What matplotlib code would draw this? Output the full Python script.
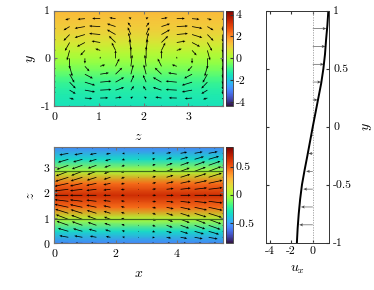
import matplotlib

matplotlib.use("Agg")

import matplotlib.pyplot as plt
import numpy as np

plt.rcParams["font.family"] = "serif"
plt.rcParams["font.serif"] = ["cmr10"]
plt.rcParams["mathtext.fontset"] = "cm"
plt.rcParams["axes.unicode_minus"] = False
plt.rcParams["axes.formatter.use_mathtext"] = True

# ---- mean streamwise profile u_x(y) (right panel, also colours top panel)
prof_y = [-1.0, -0.875, -0.75, -0.625, -0.5, -0.375, -0.25, -0.125, 0.0,
          0.125, 0.25, 0.375, 0.5, 0.625, 0.75, 0.875, 1.0]
prof_ux = [-1.47, -1.4, -1.3, -1.17, -1.0, -0.76, -0.5, -0.25, 0.0,
           0.26, 0.52, 0.78, 0.98, 1.13, 1.23, 1.35, 1.44]

# arrows of the profile panel
arr_y = [-0.846, -0.692, -0.538, -0.385, -0.231, -0.077,
         0.077, 0.231, 0.385, 0.538, 0.692, 0.846]
arr_ux = [-1.26, -1.1, -0.88, -0.62, -0.4, -0.15,
          0.15, 0.46, 0.77, 1.03, 1.17, 1.26]

# ---- cross-flow rolls in the (z, y) plane
top_z = [0.0, 0.343, 0.685, 1.028, 1.371, 1.714, 2.056, 2.399, 2.742,
         3.084, 3.427, 3.77]
top_y = [-1.0, -0.833, -0.667, -0.5, -0.333, -0.167, 0.0, 0.167, 0.333,
         0.5, 0.667, 0.833, 1.0]
roll_cos_z = [1.0, 0.84, 0.42, -0.14, -0.65, -0.96, -0.96, -0.65, -0.14,
              0.42, 0.84, 1.0]
roll_sin_z = [0.0, 0.54, 0.91, 0.99, 0.76, 0.28, -0.28, -0.76, -0.99,
              -0.91, -0.54, 0.0]
roll_v_y = [0.0, 0.12, 0.35, 0.6, 0.8, 0.95, 1.0, 0.95, 0.8, 0.6,
            0.35, 0.12, 0.0]
roll_w_y = [0.0, 0.65, 0.9, 0.9, 0.7, 0.4, 0.0, -0.4, -0.7, -0.9, -0.9,
            -0.65, 0.0]

# ---- midplane (x, z) field
bot_x = [0.0, 0.458, 0.917, 1.375, 1.833, 2.292, 2.75, 3.208, 3.667,
         4.125, 4.583, 5.042, 5.5]
bot_amp_x = [-1.0, -0.97, -0.87, -0.71, -0.5, -0.26, 0.0, 0.26, 0.5,
             0.71, 0.87, 0.97, 1.0]
bot_z = [0.0, 0.236, 0.471, 0.707, 0.942, 1.178, 1.414, 1.649, 1.885,
         2.121, 2.356, 2.592, 2.827, 3.063, 3.299, 3.534, 3.77]
bot_u_z = [0.6, 0.65, 0.75, 0.85, 0.9, 0.95, 1.0, 1.0, 1.0, 1.0, 1.0,
           0.95, 0.9, 0.85, 0.75, 0.65, 0.6]
bot_w_z = [0.0, -0.12, -0.22, -0.3, -0.34, -0.3, -0.22, -0.12, 0.0, 0.12,
           0.22, 0.3, 0.34, 0.3, 0.22, 0.12, 0.0]
bot_c_z = [0.0, 0.471, 0.942, 1.414, 1.885, 2.356, 2.827, 3.299, 3.77]
bot_c = [-0.58, -0.34, 0.02, 0.46, 0.64, 0.46, 0.02, -0.34, -0.58]
roll_centres_z = [0.94, 2.83]

top_ticks_x = [0, 1, 2, 3]
top_ticks_y = [-1, 0, 1]
top_ticklabels_y = ["-1", "0", "1"]
top_cb_ticks = [-4, -2, 0, 2, 4]
top_cb_labels = ["-4", "-2", "0", "2", "4"]
bot_ticks_x = [0, 2, 4]
bot_ticks_y = [0, 1, 2, 3]
bot_cb_ticks = [-0.5, 0, 0.5]
bot_cb_labels = ["-0.5", "0", "0.5"]
prof_ticks_x = [-4, -2, 0]
prof_ticklabels_x = ["-4", "-2", "0"]
prof_ticks_y = [-1, -0.5, 0, 0.5, 1]
prof_ticklabels_y = ["-1", "-0.5", "0", "0.5", "1"]

W, H = 374, 290
fig = plt.figure(figsize=(W / 100, H / 100), dpi=100)


def box(x0, y0, x1, y1):
    return [x0 / W, 1 - y1 / H, (x1 - x0) / W, (y1 - y0) / H]


ax_top = fig.add_axes(box(54.3, 10.7, 222.7, 106))
cax_top = fig.add_axes(box(226, 10.7, 232.7, 106))
ax_bot = fig.add_axes(box(54.3, 147.3, 222.7, 243.3))
cax_bot = fig.add_axes(box(226, 147.3, 232.7, 243.3))
ax_pro = fig.add_axes(box(266.3, 10.7, 329, 242.7))

fs = 8.5
frame = "0.45"
qkw = dict(color="black", scale_units="inches", width=0.0045,
           headwidth=3.2, headlength=3.6, headaxislength=3.2, pivot="tail")

# ---- top panel
prof_c = np.repeat(np.array(prof_ux)[:, None], 2, axis=1)
m_top = ax_top.pcolormesh([top_z[0], top_z[-1]], prof_y, prof_c,
                          shading="gouraud", cmap="turbo",
                          vmin=-4.35, vmax=4.35)
v = -np.outer(roll_v_y, roll_cos_z)
w = np.outer(roll_w_y, roll_sin_z)
ax_top.quiver(top_z, top_y, w, v, scale=8, **qkw)
ax_top.set_xlim(0, 3.77)
ax_top.set_ylim(-1, 1)
ax_top.set_xticks(top_ticks_x)
ax_top.set_yticks(top_ticks_y, top_ticklabels_y)
ax_top.set_xlabel("$z$", fontsize=10, labelpad=6)
ax_top.set_ylabel("$y$", fontsize=10, labelpad=2)
cb = fig.colorbar(m_top, cax=cax_top)
cb.set_ticks(top_cb_ticks, labels=top_cb_labels)

# ---- bottom panel
bot_cc = np.repeat(np.array(bot_c)[:, None], 2, axis=1)
m_bot = ax_bot.pcolormesh([bot_x[0], bot_x[-1]], bot_c_z, bot_cc,
                          shading="gouraud", cmap="turbo",
                          vmin=-0.86, vmax=0.84)
bu = np.outer(bot_u_z, bot_amp_x)
bw = np.outer(bot_w_z, bot_amp_x)
ax_bot.quiver(bot_x, bot_z, bu, bw, scale=7, **qkw)
for zc in roll_centres_z:
    ax_bot.axhline(zc, color="#3f6b1f", lw=0.9)
ax_bot.set_xlim(0, 5.5)
ax_bot.set_ylim(0, 3.77)
ax_bot.set_xticks(bot_ticks_x)
ax_bot.set_yticks(bot_ticks_y)
ax_bot.set_xlabel("$x$", fontsize=10, labelpad=6)
ax_bot.set_ylabel("$z$", fontsize=10, labelpad=4)
cb2 = fig.colorbar(m_bot, cax=cax_bot)
cb2.set_ticks(bot_cb_ticks, labels=bot_cb_labels)

for a in (ax_top, ax_bot):
    for s in a.spines.values():
        s.set_color(frame)
        s.set_linewidth(0.8)
    a.tick_params(direction="in", length=2, color=frame, labelsize=fs,
                  top=True, right=True, pad=3)

for c in (cb, cb2):
    c.outline.set_linewidth(0.6)
    c.outline.set_edgecolor("0.2")
    c.ax.tick_params(direction="in", length=2, labelsize=fs, pad=2,
                     color="0.2")

# ---- profile panel
ax_pro.axvline(0, color="0.6", lw=0.6, ls=(0, (1.5, 1.5)))
ax_pro.quiver(np.zeros(len(arr_y)), arr_y, arr_ux, np.zeros(len(arr_y)),
              angles="xy", scale_units="xy", scale=1, color="0.3",
              width=0.01, headwidth=5, headlength=6, headaxislength=5)
ax_pro.plot(prof_ux, prof_y, color="black", lw=1.4)
ax_pro.set_xlim(-4.3, 1.5)
ax_pro.set_ylim(-1, 1)
ax_pro.set_xticks(prof_ticks_x, prof_ticklabels_x)
ax_pro.set_yticks(prof_ticks_y, prof_ticklabels_y)
ax_pro.yaxis.tick_right()
ax_pro.yaxis.set_label_position("right")
ax_pro.tick_params(direction="in", length=2.5, labelsize=fs, top=True,
                   left=True, right=True, color="0.2", pad=3)
for s in ax_pro.spines.values():
    s.set_color("0.2")
    s.set_linewidth(0.7)
ax_pro.set_xlabel("$u_x$", fontsize=10, labelpad=5)
ax_pro.set_ylabel("$y$", fontsize=10, labelpad=6)

fig.savefig("out.png", dpi=100)
